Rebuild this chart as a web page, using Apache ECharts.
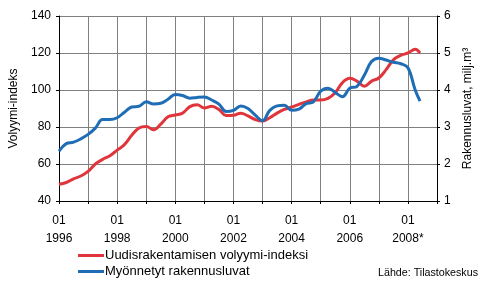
<!DOCTYPE html>
<html>
<head>
<meta charset="utf-8">
<script src="https://cdn.jsdelivr.net/npm/echarts@6/dist/echarts.min.js"></script>
<style>html,body{margin:0;padding:0;background:#fff}#c{width:490px;height:288px}</style>
</head>
<body>
<div id="c"></div>
<script>
// Quarterly sample dates (year, month)
var quarters = ['1996-01','1996-04','1996-07','1996-10','1997-01','1997-04','1997-07','1997-10',
 '1998-01','1998-04','1998-07','1998-10','1999-01','1999-04','1999-07','1999-10',
 '2000-01','2000-04','2000-07','2000-10','2001-01','2001-04','2001-07','2001-10',
 '2002-01','2002-04','2002-07','2002-10','2003-01','2003-04','2003-07','2003-10',
 '2004-01','2004-04','2004-07','2004-10','2005-01','2005-04','2005-07','2005-10',
 '2006-01','2006-04','2006-07','2006-10','2007-01','2007-04','2007-07','2007-10',
 '2008-01','2008-04','2008-06'];
// Uudisrakentamisen volyymi-indeksi (left axis)
var volyymi = [49,50,52,53.5,56,60,62.5,64.5,67.5,70.5,75.5,79.5,80.3,78.5,81.5,85.5,
 86.5,87.5,91,92,90.3,91.2,89.5,86.2,86.3,87.5,86,84,83.2,85,87.5,89.5,
 90.8,92.2,93.6,94.6,94.6,95.5,98.5,104,106.3,104.8,102,104.8,106.5,111,116.3,118.7,
 120,122,120];
// Myönnetyt rakennusluvat, milj. m3 (right axis)
var luvat = [2.35,2.55,2.59,2.68,2.80,2.97,3.20,3.20,3.25,3.40,3.54,3.56,3.68,3.62,3.64,3.75,
 3.88,3.85,3.78,3.80,3.81,3.73,3.62,3.42,3.45,3.57,3.50,3.32,3.17,3.45,3.57,3.59,
 3.45,3.48,3.63,3.68,3.97,4.05,3.93,3.82,4.05,4.10,4.40,4.77,4.86,4.81,4.75,4.71,
 4.60,4.00,3.70];
var seriesNames = ['Uudisrakentamisen volyymi-indeksi','Myönnetyt rakennusluvat'];
var leftTicks = [40,60,80,100,120,140];
var rightTicks = [1,2,3,4,5,6];
var yearLabels = {1996:'1996',1998:'1998',2000:'2000',2002:'2002',2004:'2004',2006:'2006',2008:'2008*'};

function toYear(s){var p=s.split('-');return +p[0]+(+p[1]-1)/12;}
var xs = quarters.map(toYear);
var redData = xs.map(function(x,i){return [x,volyymi[i]];});
var blueData = xs.map(function(x,i){return [x,luvat[i]];});

var font = 'Liberation Sans, Arial, sans-serif';
var chart = echarts.init(document.getElementById('c'));
chart.setOption({
  animation:false,
  textStyle:{fontFamily:font,color:'#000'},
  grid:{left:59,right:53,top:16,bottom:87},
  title:{text:'Lähde: Tilastokeskus',right:7,top:263,textStyle:{fontSize:10.7,fontWeight:'normal',color:'#000',fontFamily:font}},
  legend:{
    orient:'vertical',left:73,top:243,itemGap:1,itemWidth:26,itemHeight:3,icon:'rect',
    data:seriesNames,
    textStyle:{fontSize:13,lineHeight:15,color:'#000',fontFamily:font,padding:[0,0,0,-4]}
  },
  xAxis:{
    type:'value',min:1996,max:2009,interval:1,
    axisLine:{show:true,lineStyle:{color:'#000',width:1}},
    axisTick:{show:true,length:3,inside:false,lineStyle:{color:'#000'}},
    splitLine:{show:true,lineStyle:{color:'#808080',width:1}},
    axisLabel:{
      fontSize:12,color:'#000',lineHeight:18,margin:11,fontFamily:font,
      formatter:function(v){return yearLabels[v]?('01\n'+yearLabels[v]):'';}
    }
  },
  yAxis:[{
    type:'value',min:leftTicks[0],max:leftTicks[leftTicks.length-1],interval:20,
    name:'Volyymi-indeks',nameLocation:'middle',nameGap:38,nameRotate:90,
    nameTextStyle:{fontSize:12,color:'#000',fontFamily:font},
    axisLine:{show:true,lineStyle:{color:'#000'}},
    axisTick:{show:true,length:3,lineStyle:{color:'#000'}},
    splitLine:{show:true,lineStyle:{color:'#808080',width:1}},
    axisLabel:{fontSize:12,color:'#000',margin:8,fontFamily:font}
  },{
    type:'value',min:rightTicks[0],max:rightTicks[rightTicks.length-1],interval:1,
    name:'Rakennusluvat, milj.m³',nameLocation:'middle',nameGap:20,nameRotate:90,
    nameTextStyle:{fontSize:12,color:'#000',fontFamily:font},
    axisLine:{show:true,lineStyle:{color:'#000'}},
    axisTick:{show:true,length:3,lineStyle:{color:'#000'}},
    splitLine:{show:false},
    axisLabel:{fontSize:12,color:'#000',margin:7,fontFamily:font}
  }],
  series:[{
    name:seriesNames[0],type:'line',yAxisIndex:0,data:redData,smooth:0.4,showSymbol:false,
    lineStyle:{color:'#e0353b',width:3},itemStyle:{color:'#e0353b'}
  },{
    name:seriesNames[1],type:'line',yAxisIndex:1,data:blueData,smooth:0.4,showSymbol:false,
    lineStyle:{color:'#1f6db4',width:3},itemStyle:{color:'#1f6db4'}
  }]
});
</script>
</body>
</html>
